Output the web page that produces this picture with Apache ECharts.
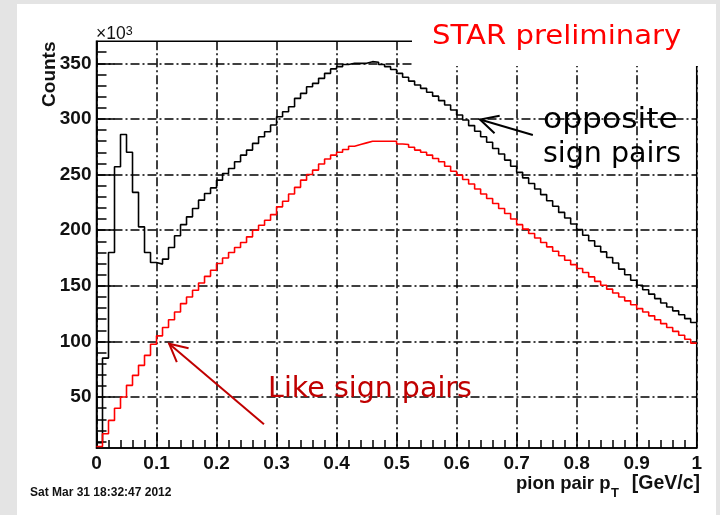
<!DOCTYPE html>
<html>
<head>
<meta charset="utf-8">
<script src="https://cdn.jsdelivr.net/npm/echarts@6/dist/echarts.min.js"></script>
<style>
  html, body { margin: 0; padding: 0; background: #e4e4e4; }
  #chart { width: 720px; height: 515px; }
</style>
</head>
<body>
<div id="chart"></div>
<script>
// Pion-pair transverse momentum, 100 bins of 0.01 GeV/c from 0 to 1, counts in units of 10^3
const binWidth = 0.01;

const oppositeSign = [
  9, 85, 180, 257, 286, 270, 234, 203, 180, 171,
  169.5, 174, 184.5, 195, 205, 212, 219.5, 227, 233, 238,
  245, 251, 255.5, 261.5, 267.5, 272, 278, 284, 288.5, 294.5,
  302, 306.5, 311, 318.5, 323, 329, 332, 336.5, 341, 345,
  347, 349, 350, 350, 350, 351.5, 351, 349, 347, 344.5,
  341, 337.5, 334, 330.5, 327.5, 324, 320.5, 316.5, 312.5, 308,
  303.5, 299, 294, 289, 284, 279, 273.5, 268.5, 263, 257.5,
  252, 247, 242, 237, 232, 226.5, 221.5, 216, 211, 205.5,
  200.5, 195.5, 190.5, 185.5, 180.5, 175.5, 170.5, 165, 160, 155,
  150.5, 146.5, 142.5, 138.5, 134.5, 131, 127.5, 124, 120.5, 117
];

const likeSign = [
  5.5, 17, 29, 40, 50, 60.5, 69.5, 78.5, 87.5, 97.5,
  105, 112.5, 119.5, 126.5, 134, 140, 146, 152.5, 158.5, 164,
  170, 175, 180, 184.5, 189, 194, 200, 204.5, 209, 214,
  221, 226, 232.5, 238.5, 245, 250, 254, 259.5, 264, 267.5,
  270, 272.5, 275.5, 277, 278.5, 280, 280, 280, 280, 280,
  277.5, 277, 274.5, 272, 270, 267.5, 264.5, 261.5, 257.5, 253,
  249.5, 245.5, 241.5, 237, 232.5, 228.5, 224, 219.5, 215, 210,
  205, 201, 197, 193, 189, 185, 181, 177, 173, 169,
  165.5, 162, 158, 154, 150.5, 147, 143.5, 140, 136.5, 133,
  129.5, 126.5, 123, 119.5, 116, 112.5, 109, 105.5, 102, 98.5
];

// Axis ticks (y in units of 10^3 counts)
const yMajorTicks = [50, 100, 150, 200, 250, 300, 350];
const yMinorTicks = [10, 20, 30, 40, 60, 70, 80, 90, 110, 120, 130, 140, 160, 170, 180, 190,
  210, 220, 230, 240, 260, 270, 280, 290, 310, 320, 330, 340, 360];
const yRange = [4.2, 369.8];

// Histogram outline: one point per bin left edge, closed at x = 1
function toSteps(values) {
  const pts = values.map((v, k) => [+(k * binWidth).toFixed(2), v]);
  pts.push([+(values.length * binWidth).toFixed(2), values[values.length - 1]]);
  return pts;
}

const chart = echarts.init(document.getElementById('chart'), null, { renderer: 'canvas' });

const gridDash = [9, 3, 2, 3];
const black = '#000';
const axisFont = { fontFamily: 'Liberation Sans', fontWeight: 'bold', fontSize: 19, color: '#111' };

chart.setOption({
  animation: false,
  backgroundColor: 'transparent',
  grid: {
    left: 96.5, right: 23.3, top: 41.3, bottom: 67,
    show: true, borderColor: black, borderWidth: 1.5, backgroundColor: 'transparent'
  },
  xAxis: {
    type: 'value', min: 0, max: 1, interval: 0.1,
    axisLine: { show: true, onZero: false, lineStyle: { color: black, width: 1.5 } },
    axisTick: { show: true, inside: true, length: 15, lineStyle: { color: black, width: 1.5 } },
    minorTick: { show: true, splitNumber: 5, length: 8, lineStyle: { color: black, width: 1.5 } },
    axisLabel: Object.assign({ margin: 6, formatter: v => String(+v.toFixed(1)) }, axisFont),
    splitLine: { show: true, lineStyle: { color: black, width: 1.5, type: gridDash } },
    minorSplitLine: { show: false }
  },
  yAxis: [
    {
      type: 'value', min: yRange[0], max: yRange[1], position: 'left',
      axisLine: { show: true, onZero: false, lineStyle: { color: black, width: 1.5 } },
      axisTick: { show: true, inside: true, length: 18, customValues: yMajorTicks,
                  lineStyle: { color: black, width: 1.5 } },
      axisLabel: Object.assign({ margin: 5, customValues: yMajorTicks }, axisFont),
      splitLine: { show: true, lineStyle: { color: black, width: 1.5, type: gridDash } }
    },
    {
      type: 'value', min: yRange[0], max: yRange[1], position: 'left',
      axisLine: { show: false },
      axisTick: { show: true, inside: true, length: 10, customValues: yMinorTicks,
                  lineStyle: { color: black, width: 1.5 } },
      axisLabel: { show: false },
      splitLine: { show: false }
    }
  ],
  series: [
    {
      name: 'opposite sign pairs', type: 'line', step: 'end', showSymbol: false,
      data: toSteps(oppositeSign), lineStyle: { color: black, width: 1.6 }, z: 3
    },
    {
      name: 'Like sign pairs', type: 'line', step: 'end', showSymbol: false,
      data: toSteps(likeSign), lineStyle: { color: '#ff0000', width: 1.6 }, z: 4
    }
  ]
});

// Annotation arrows, given in data coordinates (tip, tail)
const likeArrow = { tip: [0.121, 98], tail: [0.279, 25.5] };
const oppositeArrow = { tip: [0.639, 299.5], tail: [0.727, 285.5] };

function arrow(spec, color) {
  const t = chart.convertToPixel({ xAxisIndex: 0, yAxisIndex: 0 }, spec.tip);
  const s = chart.convertToPixel({ xAxisIndex: 0, yAxisIndex: 0 }, spec.tail);
  const ang = Math.atan2(s[1] - t[1], s[0] - t[0]);
  const len = 20, half = 27 * Math.PI / 180;
  const a1 = [t[0] + len * Math.cos(ang - half), t[1] + len * Math.sin(ang - half)];
  const a2 = [t[0] + len * Math.cos(ang + half), t[1] + len * Math.sin(ang + half)];
  return [
    { type: 'line', z: 102, shape: { x1: s[0], y1: s[1], x2: t[0], y2: t[1] },
      style: { stroke: color, lineWidth: 2 } },
    { type: 'polyline', z: 102, shape: { points: [a1, t, a2] },
      style: { stroke: color, fill: null, lineWidth: 2 } }
  ];
}

const noteFont = 'DejaVu Sans';
const labelFont = 'Liberation Sans';

chart.setOption({
  graphic: [
    // white page panel
    { type: 'rect', z: -10, shape: { x: 17, y: 4, width: 699, height: 511 }, style: { fill: '#fff' } },
    // label box over the upper right of the frame
    { type: 'rect', z: 100, shape: { x: 412, y: 4, width: 304, height: 62 }, style: { fill: '#fff' } },
    { type: 'text', z: 101, x: 432, y: 37, scaleX: 1.12,
      style: { text: 'STAR preliminary', fill: '#ff0000', font: 'normal 26px "' + noteFont + '"',
               align: 'left', verticalAlign: 'middle' } },
    { type: 'text', z: 101, x: 543, y: 121, scaleX: 1.1,
      style: { text: 'opposite', fill: '#000', font: 'normal 28.5px "' + noteFont + '"',
               align: 'left', verticalAlign: 'middle' } },
    { type: 'text', z: 101, x: 543, y: 155,
      style: { text: 'sign pairs', fill: '#000', font: 'normal 28.5px "' + noteFont + '"',
               align: 'left', verticalAlign: 'middle' } },
    { type: 'text', z: 101, x: 268, y: 390,
      style: { text: 'Like sign pairs', fill: '#c00000', font: 'normal 28.5px "' + noteFont + '"',
               align: 'left', verticalAlign: 'middle' } },
    // axis decorations
    { type: 'text', z: 101, x: 96, y: 43.5,
      style: { text: '×10{sup|3}', fill: '#111', font: 'normal 17.5px "' + labelFont + '"',
               align: 'left', verticalAlign: 'bottom',
               rich: { sup: { fontSize: 12.5, fontFamily: labelFont, verticalAlign: 'top', fill: '#111' } } } },
    { type: 'text', z: 101, x: 49.5, y: 41.5, rotation: Math.PI / 2,
      style: { text: 'Counts', fill: '#111', font: 'bold 19px "' + labelFont + '"',
               align: 'right', verticalAlign: 'middle' } },
    { type: 'text', z: 101, x: 610.5, y: 484,
      style: { text: 'pion pair p', fill: '#111', font: 'bold 18.5px "' + labelFont + '"',
               align: 'right', verticalAlign: 'middle' } },
    { type: 'text', z: 101, x: 611, y: 493,
      style: { text: 'T', fill: '#111', font: 'bold 13px "' + labelFont + '"',
               align: 'left', verticalAlign: 'middle' } },
    { type: 'text', z: 101, x: 700, y: 484,
      style: { text: '[GeV/c]', fill: '#111', font: 'bold 19.5px "' + labelFont + '"',
               align: 'right', verticalAlign: 'middle' } },
    { type: 'text', z: 101, x: 30, y: 492.5,
      style: { text: 'Sat Mar 31 18:32:47 2012', fill: '#111', font: 'bold 12px "' + labelFont + '"',
               align: 'left', verticalAlign: 'middle' } }
  ].concat(arrow(likeArrow, '#c00000'), arrow(oppositeArrow, '#000'))
});
</script>
</body>
</html>
